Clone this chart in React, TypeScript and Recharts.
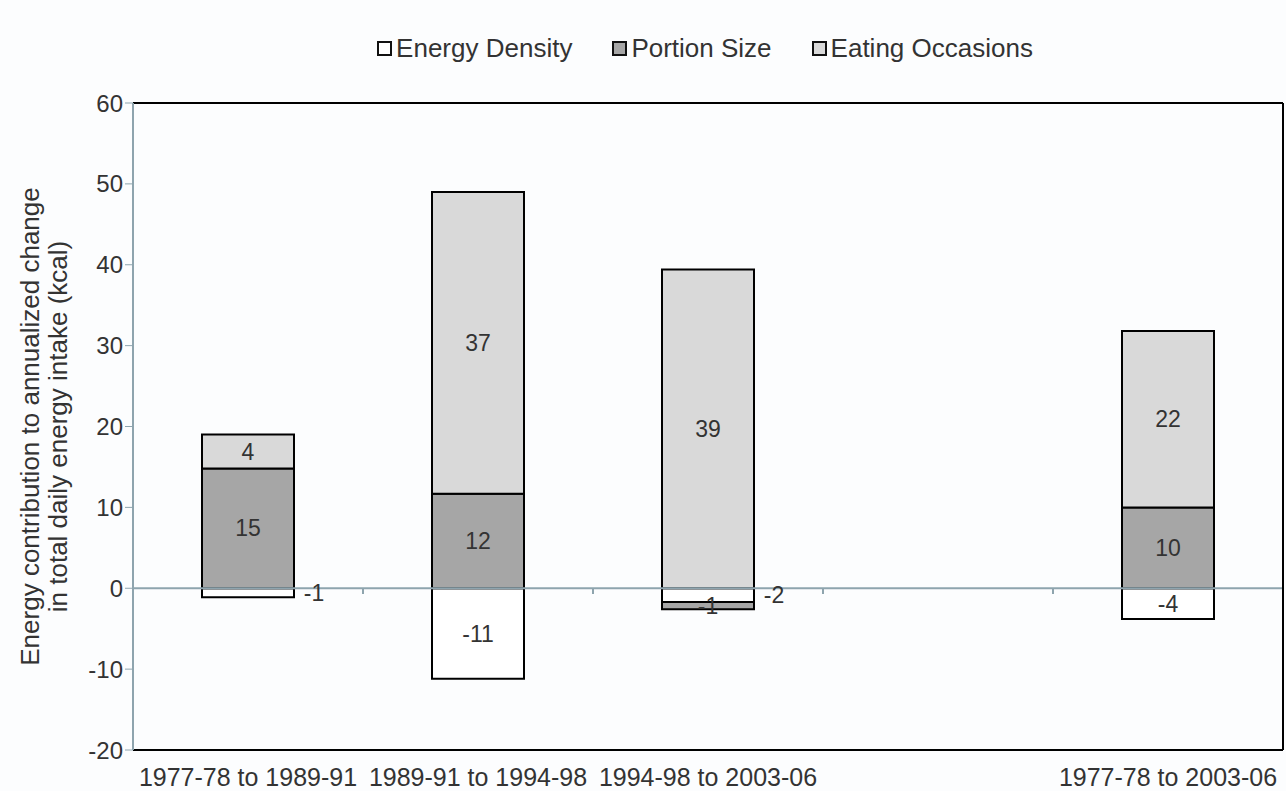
import React from 'react';
import { BarChart, Bar, XAxis, YAxis, ReferenceLine, LabelList } from 'recharts';

const categories = ['1977-78 to 1989-91', '1989-91 to 1994-98', '1994-98 to 2003-06', '', '1977-78 to 2003-06'];
const energyDensity = [-1.1, -11.2, -1.7, null, -3.8];
const portionSize = [14.8, 11.7, -0.9, null, 10.0];
const eatingOccasions = [4.2, 37.3, 39.4, null, 21.8];
const yTicks = [-20, -10, 0, 10, 20, 30, 40, 50, 60];
const boundaryTicks = [1, 2, 3, 4];

const series = [
  { key: 'energyDensity', name: 'Energy Density', fill: '#ffffff' },
  { key: 'portionSize', name: 'Portion Size', fill: '#a6a6a6' },
  { key: 'eatingOccasions', name: 'Eating Occasions', fill: '#d9d9d9' },
];

const data = categories.map((cat, i) => ({
  cat,
  pos: i + 0.5,
  energyDensity: energyDensity[i],
  portionSize: portionSize[i],
  eatingOccasions: eatingOccasions[i],
}));

const FONT = '"Liberation Sans", Arial, sans-serif';
const AXIS_BLUE = '#8ea4ae';

// small values of the first series get their label beside the bar, like Excel did
const makeLabel = (sideways: boolean) => (props: any) => {
  const { x, y, width, height, value } = props;
  if (value == null) return null;
  const top = Math.min(y, y + height);
  const h = Math.abs(height);
  const outside = sideways && Math.abs(value) < 2.5;
  return (
    <text
      x={outside ? x + width + 20 : x + width / 2}
      y={top + h / 2}
      textAnchor="middle"
      dominantBaseline="central"
      fontSize={23}
      fontFamily={FONT}
      fill="#333"
    >
      {Math.round(value)}
    </text>
  );
};

const YTitle = (props: any) => {
  const { viewBox } = props;
  const cy = viewBox.y + viewBox.height / 2;
  const cx = 44;
  return (
    <text
      transform={`rotate(-90, ${cx}, ${cy})`}
      x={cx}
      y={cy}
      textAnchor="middle"
      fontSize={26}
      fontFamily={FONT}
      fill="#333"
    >
      <tspan x={cx} dy={-5}>Energy contribution to annualized change</tspan>
      <tspan x={cx} dy={28}>in total daily energy intake (kcal)</tspan>
    </text>
  );
};

const App: React.FC = () => {
  return (
    <div style={{ position: 'absolute', left: 0, top: 0, width: 1286, height: 791, background: '#fcfdfe' }}>
      <div
        style={{
          position: 'absolute',
          top: 33,
          left: 0,
          width: 1286,
          display: 'flex',
          justifyContent: 'center',
          paddingLeft: 124,
          boxSizing: 'border-box',
          fontFamily: FONT,
          fontSize: 26,
          color: '#333',
        }}
      >
        {series.map((s) => (
          <div key={s.key} style={{ display: 'flex', alignItems: 'center', margin: '0 20px' }}>
            <div
              style={{
                width: 11,
                height: 11,
                border: '2px solid #111',
                background: s.fill,
                marginRight: 4,
              }}
            />
            <span>{s.name}</span>
          </div>
        ))}
      </div>
      <BarChart
        width={1286}
        height={791}
        data={data}
        margin={{ top: 103, right: 3, bottom: 0, left: 63 }}
        stackOffset="sign"
        barCategoryGap="30%"
      >
        <XAxis
          dataKey="cat"
          interval={0}
          height={41}
          tickLine={false}
          tickMargin={12}
          axisLine={{ stroke: '#000', strokeWidth: 2 }}
          tick={{ fontSize: 25, fontFamily: FONT, fill: '#333' }}
        />
        <XAxis
          xAxisId="num"
          dataKey="pos"
          type="number"
          domain={[0, 5]}
          allowDataOverflow
          hide
        />
        <YAxis
          domain={[-20, 60]}
          ticks={yTicks}
          width={70}
          tickSize={8}
          axisLine={{ stroke: AXIS_BLUE, strokeWidth: 2 }}
          tickLine={{ stroke: AXIS_BLUE }}
          tick={{ fontSize: 24, fontFamily: FONT, fill: '#333' }}
          label={{ content: <YTitle /> }}
        />
        {series.map((s) => (
          <Bar
            key={s.key}
            dataKey={s.key}
            name={s.name}
            stackId="a"
            fill={s.fill}
            stroke="#000"
            strokeWidth={2}
            isAnimationActive={false}
          >
            <LabelList dataKey={s.key} content={makeLabel(s.key === 'energyDensity')} />
          </Bar>
        ))}
        <ReferenceLine y={0} stroke={AXIS_BLUE} strokeWidth={2} />
        {boundaryTicks.map((t) => (
          <ReferenceLine
            key={t}
            xAxisId="num"
            segment={[{ x: t, y: 0 }, { x: t, y: -0.7 }]}
            stroke={AXIS_BLUE}
            strokeWidth={2}
          />
        ))}
        {/* plot frame: top and right edges */}
        <ReferenceLine y={60} stroke="#000" strokeWidth={2} />
        <ReferenceLine xAxisId="num" x={5} stroke="#000" strokeWidth={2} />
      </BarChart>
    </div>
  );
};

export default App;
